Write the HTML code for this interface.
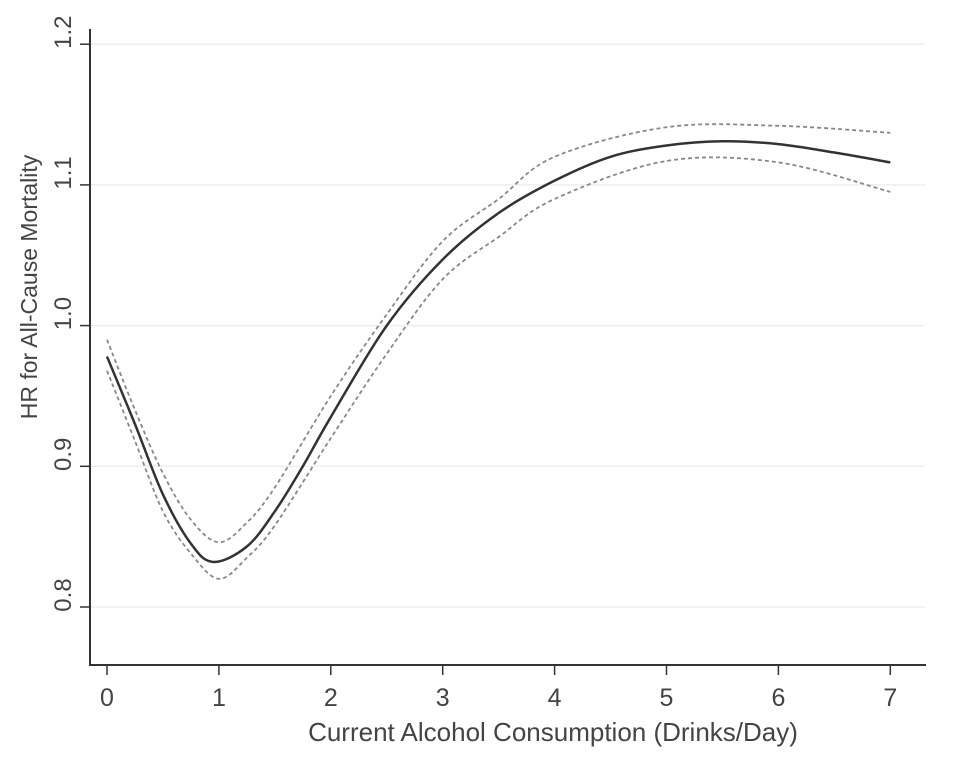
<!DOCTYPE html>
<html><head><meta charset="utf-8"><style>
body{margin:0;background:#fff;}
svg{display:block;font-family:"Liberation Sans",sans-serif;}
</style></head><body>
<svg id="chart" width="960" height="770" viewBox="0 0 960 770"></svg>
<script>
const xTicks=[0,1,2,3,4,5,6,7];
const yTicks=[0.8,0.9,1.0,1.1,1.2];
const yTickLabels=["0.8","0.9","1.0","1.1","1.2"];
const estX=[0,0.25,0.5,0.75,0.95,1.25,1.5,1.75,2,2.5,3,3.5,4,4.5,5,5.5,6,6.5,7];
const estY=[0.978,0.93,0.88,0.845,0.832,0.843,0.868,0.90,0.935,1.0,1.047,1.08,1.103,1.12,1.128,1.131,1.129,1.123,1.116];
const ciX=[0,0.25,0.5,0.75,1,1.25,1.5,2,2.5,3,3.5,4,5,6,7];
const upperY=[0.99,0.94,0.895,0.862,0.846,0.86,0.885,0.95,1.008,1.06,1.09,1.12,1.141,1.142,1.137];
const lowerY=[0.968,0.918,0.868,0.838,0.82,0.835,0.858,0.92,0.98,1.033,1.063,1.09,1.117,1.116,1.095];

const sx=v=>107+v*111.9;
const sy=v=>607-(v-0.8)*1407;
const svg=document.getElementById('chart');
const NS='http://www.w3.org/2000/svg';
function mk(tag,attrs,parent){const e=document.createElementNS(NS,tag);for(const k in attrs)e.setAttribute(k,attrs[k]);(parent||svg).appendChild(e);return e;}

yTicks.forEach((t,i)=>{
  const g=mk('line',{x1:90,x2:925,y1:sy(t),y2:sy(t),stroke:'#eeeeee','stroke-width':1.5});
  
  
  const tk=mk('line',{x1:80,x2:90,y1:sy(t),y2:sy(t),stroke:'#333','stroke-width':1.5});
  
  
  const tx=mk('text',{x:0,y:0,transform:`translate(${71},${sy(t)-12}) rotate(-90)`,'text-anchor':'middle','font-size':24,fill:'#444'});
  tx.textContent=yTickLabels[i];
  
  
});
xTicks.forEach(t=>{
  const tk=mk('line',{x1:sx(t),x2:sx(t),y1:665,y2:675,stroke:'#333','stroke-width':1.5});
  
  
  const tx=mk('text',{x:sx(t),y:706,'text-anchor':'middle','font-size':25,fill:'#444'});
  tx.textContent=t;
  
  
});
const ya=mk('line',{x1:90,x2:90,y1:29,y2:666,stroke:'#333','stroke-width':2});


const xa=mk('line',{x1:89,x2:926,y1:665,y2:665,stroke:'#333','stroke-width':2});



function smooth(xs,ys){
  const p=xs.map((x,i)=>[sx(x),sy(ys[i])]);
  let d=`M${p[0][0]},${p[0][1]}`;
  for(let i=0;i<p.length-1;i++){
    const p0=p[Math.max(0,i-1)],p1=p[i],p2=p[i+1],p3=p[Math.min(p.length-1,i+2)];
    const c1=[p1[0]+(p2[0]-p0[0])/6,p1[1]+(p2[1]-p0[1])/6];
    const c2=[p2[0]-(p3[0]-p1[0])/6,p2[1]-(p3[1]-p1[1])/6];
    d+=` C${c1[0]},${c1[1]} ${c2[0]},${c2[1]} ${p2[0]},${p2[1]}`;
  }
  return d;
}
const up=mk('path',{d:smooth(ciX,upperY),fill:'none',stroke:'#888','stroke-width':1.8,'stroke-dasharray':'4,3'});


const lo=mk('path',{d:smooth(ciX,lowerY),fill:'none',stroke:'#888','stroke-width':1.8,'stroke-dasharray':'4,3'});


const est=mk('path',{d:smooth(estX,estY),fill:'none',stroke:'#333','stroke-width':2.5});



const xt=mk('text',{x:553,y:741,'text-anchor':'middle','font-size':26,fill:'#444'});
xt.textContent='Current Alcohol Consumption (Drinks/Day)';


const yt=mk('text',{x:0,y:0,transform:'translate(37,287) rotate(-90)','text-anchor':'middle','font-size':23,fill:'#444'});
yt.textContent='HR for All-Cause Mortality';


</script>
</body></html>
